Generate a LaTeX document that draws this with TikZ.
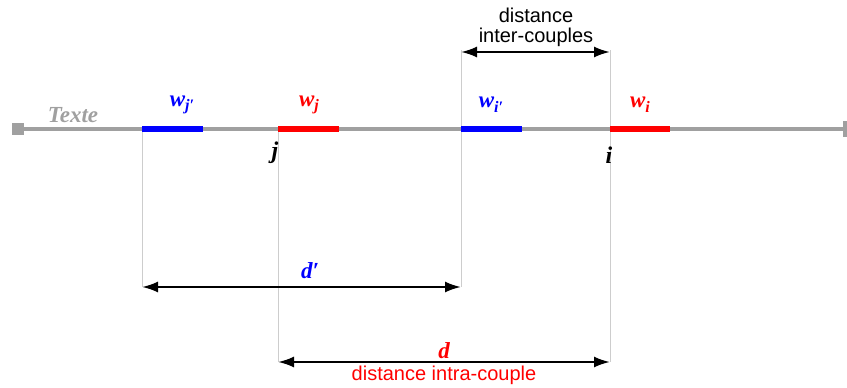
\documentclass[tikz,border=0pt]{standalone}
\usepackage{fontspec}
\setmainfont{Liberation Serif}
\setsansfont{Liberation Sans}
\usetikzlibrary{arrows.meta}
\definecolor{tgray}{RGB}{160,160,160}
\definecolor{vgray}{RGB}{205,205,205}
\definecolor{wblue}{RGB}{0,0,255}
\definecolor{wred}{RGB}{255,0,0}
\newcommand{\wsub}[1]{\raisebox{-0.45ex}{\fontsize{16}{16}\selectfont #1}}
\tikzset{
  seg/.style={line width=6pt},
  guide/.style={vgray, line width=0.9pt},
  dimarrow/.style={line width=2.2pt, {Latex[length=16pt,width=11pt]}-{Latex[length=16pt,width=11pt]}},
  wlab/.style={font=\fontsize{23}{24}\selectfont\bfseries\itshape, inner sep=0pt},
  poslab/.style={font=\fontsize{24}{24}\selectfont\bfseries\itshape, inner sep=0pt},
  sanslab/.style={font=\fontsize{20}{22}\sffamily, inner sep=0pt}
}
\begin{document}
\begin{tikzpicture}[x=1pt,y=-1pt]
\useasboundingbox (0,0) rectangle (847,388);
% text line
\coordinate (ls) at (18,129);
\coordinate (le) at (845,129);
\draw[tgray, line width=4.5pt] (ls) -- (le);
\fill[tgray] (12,123) rectangle (24,135);
\fill[tgray] (843,121) rectangle (847,137);
\node[font=\fontsize{23}{24}\selectfont\bfseries\itshape, text=tgray, inner sep=0pt] (texte) at (73,115) {Texte};
% segment coordinates
\coordinate (jp1) at (142,129); \coordinate (jp2) at (203,129);
\coordinate (j1) at (278,129);  \coordinate (j2) at (339,129);
\coordinate (ip1) at (461,129); \coordinate (ip2) at (522,129);
\coordinate (i1) at (610,129);  \coordinate (i2) at (670,129);
% guides
\coordinate (ipt) at (461,50); \coordinate (it) at (610,50);
\coordinate (a1) at (461,52); \coordinate (a2) at (610,52);
\coordinate (jpb) at (142,287); \coordinate (ipb) at (461,287);
\coordinate (jb) at (278,362); \coordinate (ib) at (610,362);
\draw[guide] (jp1) -- (jpb);
\draw[guide] (j1) -- (jb);
\draw[guide] (ipt) -- (ipb);
\draw[guide] (it) -- (ib);
% segments
\draw[seg, wblue] (jp1) -- (jp2);
\draw[seg, wred] (j1) -- (j2);
\draw[seg, wblue] (ip1) -- (ip2);
\draw[seg, wred] (i1) -- (i2);
% labels
\node[wlab, text=wblue] (wjp) at (182,105) {w\wsub{j′}};
\node[wlab, text=wred] (wj) at (309,105) {w\wsub{j}};
\node[wlab, text=wblue] (wip) at (491,105) {w\wsub{i′}};
\node[wlab, text=wred] (wi) at (640,105) {w\wsub{i}};
\node[poslab] (jl) at (275,153) {j};
\node[poslab] (il) at (609,155) {i};
% arrows
\draw[dimarrow] (a1) -- (a2);
\draw[dimarrow] (jpb) -- (ipb);
\draw[dimarrow] (jb) -- (ib);
\node[sanslab] (dist) at (536,15) {distance};
\node[sanslab] (inter) at (536,37) {inter-couples};
\node[wlab, text=wblue] (dp) at (310,271) {d′};
\node[wlab, text=wred] (d) at (444,351) {d};
\node[sanslab, text=wred] (intra) at (444,375) {distance intra-couple};
\end{tikzpicture}
\end{document}
